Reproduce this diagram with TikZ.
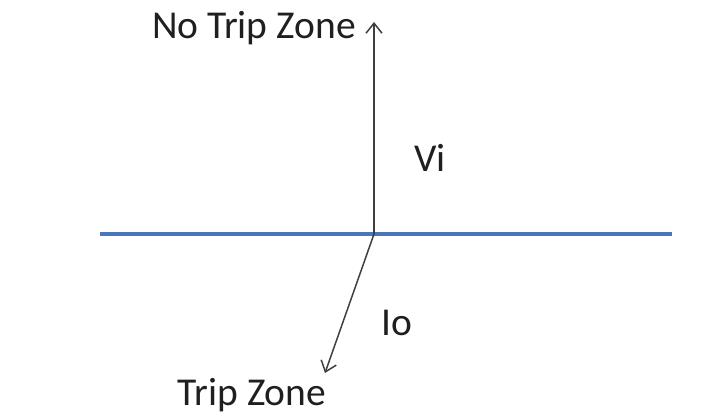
\documentclass[tikz,border=0pt]{standalone}
\usepackage{fontspec}
\setmainfont{Carlito}
\usetikzlibrary{arrows.meta}
\begin{document}
\begin{tikzpicture}[x=1pt,y=-1pt,
  lbl/.style={inner sep=0pt,font=\fontsize{39.5}{46}\selectfont,text=black!88},
  vec/.style={line width=1.5pt,draw=black!75,-{Straight Barb[length=10pt,width=16pt]}}]
\useasboundingbox (0,0) rectangle (714,419);
\coordinate (L) at (100,234);
\coordinate (R) at (672,234);
\draw[line width=4.5pt,draw={rgb,255:red,74;green,118;blue,186}] (L) -- (R);
\coordinate (O) at (374,234);
\coordinate (T) at (374,22);
\coordinate (B) at (325,373);
\draw[vec] (O) -- (T);
\draw[vec] (O) -- (B);
\node[lbl,anchor=east] (nt) at (356,28) {No Trip Zone};
\node[lbl] (vi) at (430,158) {Vi};
\node[lbl] (io) at (397,323) {Io};
\node[lbl] (tz) at (252,395) {Trip Zone};
\end{tikzpicture}
\end{document}
